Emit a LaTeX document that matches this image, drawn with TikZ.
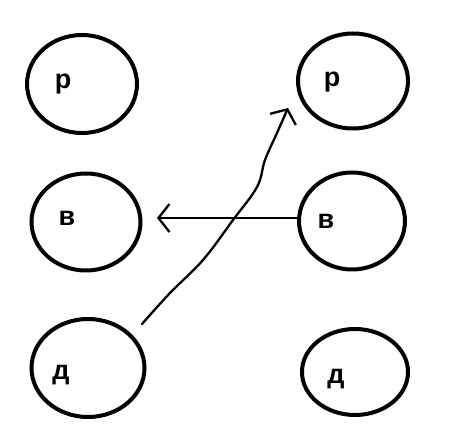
\documentclass[tikz,border=0pt]{standalone}
\usepackage{fontspec}
\setmainfont{Liberation Sans}
\usetikzlibrary{arrows.meta,shapes.geometric}
\tikzset{
  oval/.style={draw,ellipse,line width=4pt,inner sep=0pt},
  letter/.style={font=\bfseries\fontsize{27}{27}\selectfont,inner sep=0pt},
  hand/.style={line width=2.3pt,line cap=round,line join=round,
    -{Straight Barb[length=11pt,width=28pt,line width=2.3pt]}}
}
\begin{document}
\begin{tikzpicture}[x=1pt,y=-1pt]
\useasboundingbox (0,0) rectangle (451,446);
% left column
\node[oval,minimum width=110pt,minimum height=98pt] (rl) at (82,84){};
\node[letter] (trl) at (63,84){р};
\node[oval,minimum width=109pt,minimum height=97pt] (vl) at (86,222){};
\node[letter] (tvl) at (67,218){в};
\node[oval,minimum width=113pt,minimum height=98pt] (dl) at (88,368){};
\node[letter] (tdl) at (61,375){д};
% right column
\node[oval,minimum width=110pt,minimum height=95pt] (rr) at (353,81){};
\node[letter] (trr) at (332,82){р};
\node[oval,minimum width=106pt,minimum height=97pt] (vr) at (352,221){};
\node[letter] (tvr) at (326,221){в};
\node[oval,minimum width=106pt,minimum height=86pt] (dr) at (355,372){};
\node[letter] (tdr) at (336,379){д};
% arrows
\coordinate (vtip) at (157,218);
\draw[hand] (vr.west |- vtip) -- (vtip);
\coordinate (dstart) at (142,324);
\coordinate (rtip) at (288,108);
\draw[hand] plot[smooth,tension=0.6] coordinates
  {(dstart) (170,293) (203,260) (233,220) (257,187) (265,160) (277,133) (rtip)};
\end{tikzpicture}
\end{document}
